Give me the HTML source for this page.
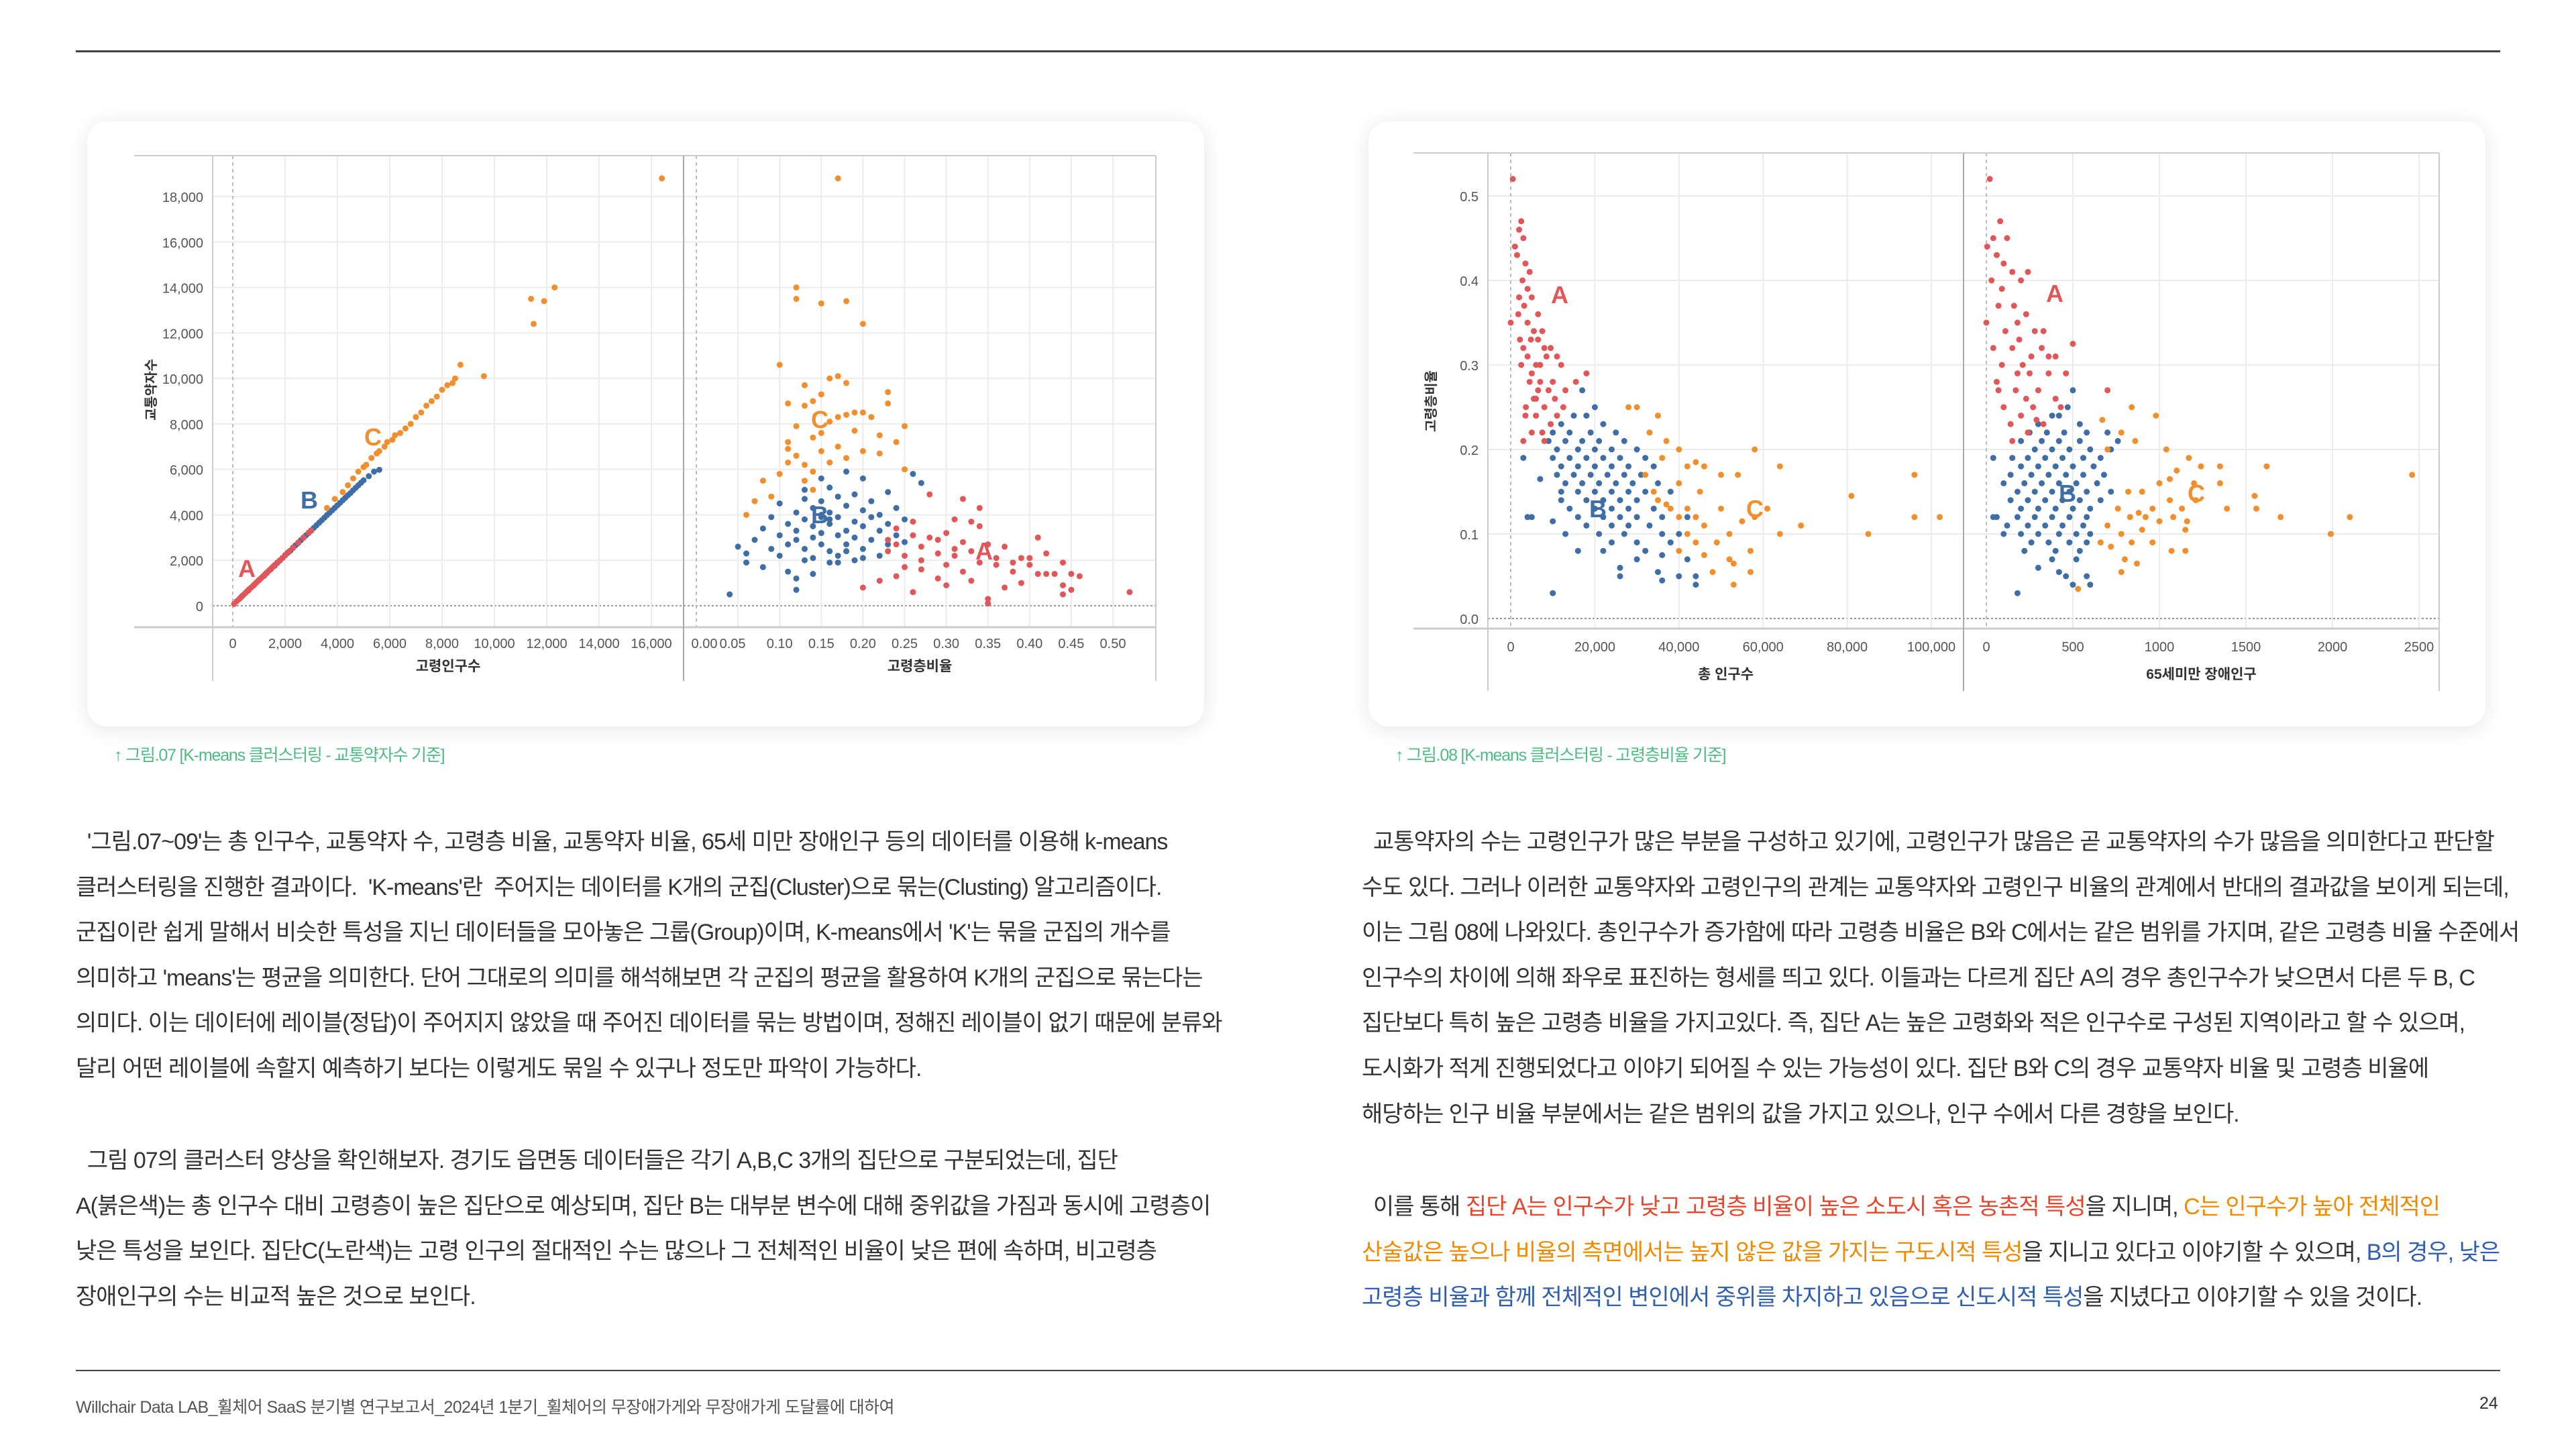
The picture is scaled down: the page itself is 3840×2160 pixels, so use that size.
<!DOCTYPE html>
<html><head><meta charset="utf-8"><style>
*{margin:0;padding:0;box-sizing:border-box}
body{width:3840px;height:2160px;background:#fff;position:relative;overflow:hidden;font-family:"Liberation Sans","Noto Sans CJK KR",sans-serif;color:#333}
.rule{position:absolute;left:113px;width:3614px;height:3px;background:#444}
.card{position:absolute;background:#fff;border-radius:30px;box-shadow:0 4px 30px rgba(0,0,0,0.10)}
.cap{position:absolute;font-size:25px;color:#4dbb83;letter-spacing:-1.2px;white-space:nowrap}
.para{position:absolute;font-size:34px;line-height:67.6px;letter-spacing:-1.0px;white-space:nowrap;color:#333}
.r{color:#e8452c}.o{color:#f08a00}.b{color:#2f5fae}
svg text{font-family:"Liberation Sans","Noto Sans CJK KR",sans-serif}
</style></head><body>
<div class="rule" style="top:75px"></div>
<div class="card" style="left:130px;top:181px;width:1665px;height:902px"></div>
<div class="card" style="left:2040px;top:181px;width:1665px;height:902px"></div>
<svg id="charts" width="3840" height="2160" style="position:absolute;left:0;top:0"></svg>
<div class="cap" style="left:170px;top:1106px">↑ 그림.07 [K-means 클러스터링 - 교통약자수 기준]</div>
<div class="cap" style="left:2080px;top:1106px">↑ 그림.08 [K-means 클러스터링 - 고령층비율 기준]</div>

<div class="para" style="left:113px;top:1222px">&nbsp; '그림.07~09'는 총 인구수, 교통약자 수, 고령층 비율, 교통약자 비율, 65세 미만 장애인구 등의 데이터를 이용해 k-means<br>클러스터링을 진행한 결과이다.&nbsp; 'K-means'란&nbsp; 주어지는 데이터를 K개의 군집(Cluster)으로 묶는(Clusting) 알고리즘이다.<br>군집이란 쉽게 말해서 비슷한 특성을 지닌 데이터들을 모아놓은 그룹(Group)이며, K-means에서 'K'는 묶을 군집의 개수를<br>의미하고 'means'는 평균을 의미한다. 단어 그대로의 의미를 해석해보면 각 군집의 평균을 활용하여 K개의 군집으로 묶는다는<br>의미다. 이는 데이터에 레이블(정답)이 주어지지 않았을 때 주어진 데이터를 묶는 방법이며, 정해진 레이블이 없기 때문에 분류와<br>달리 어떤 레이블에 속할지 예측하기 보다는 이렇게도 묶일 수 있구나 정도만 파악이 가능하다.</div>
<div class="para" style="left:113px;top:1697px">&nbsp; 그림 07의 클러스터 양상을 확인해보자. 경기도 읍면동 데이터들은 각기 A,B,C 3개의 집단으로 구분되었는데, 집단<br>A(붉은색)는 총 인구수 대비 고령층이 높은 집단으로 예상되며, 집단 B는 대부분 변수에 대해 중위값을 가짐과 동시에 고령층이<br>낮은 특성을 보인다. 집단C(노란색)는 고령 인구의 절대적인 수는 많으나 그 전체적인 비율이 낮은 편에 속하며, 비고령층<br>장애인구의 수는 비교적 높은 것으로 보인다.</div>
<div class="para" style="left:2030px;top:1222px">&nbsp; 교통약자의 수는 고령인구가 많은 부분을 구성하고 있기에, 고령인구가 많음은 곧 교통약자의 수가 많음을 의미한다고 판단할<br>수도 있다. 그러나 이러한 교통약자와 고령인구의 관계는 교통약자와 고령인구 비율의 관계에서 반대의 결과값을 보이게 되는데,<br>이는 그림 08에 나와있다. 총인구수가 증가함에 따라 고령층 비율은 B와 C에서는 같은 범위를 가지며, 같은 고령층 비율 수준에서<br>인구수의 차이에 의해 좌우로 표진하는 형세를 띄고 있다. 이들과는 다르게 집단 A의 경우 총인구수가 낮으면서 다른 두 B, C<br>집단보다 특히 높은 고령층 비율을 가지고있다. 즉, 집단 A는 높은 고령화와 적은 인구수로 구성된 지역이라고 할 수 있으며,<br>도시화가 적게 진행되었다고 이야기 되어질 수 있는 가능성이 있다. 집단 B와 C의 경우 교통약자 비율 및 고령층 비율에<br>해당하는 인구 비율 부분에서는 같은 범위의 값을 가지고 있으나, 인구 수에서 다른 경향을 보인다.</div>
<div class="para" style="left:2030px;top:1766px">&nbsp; 이를 통해 <span class="r">집단 A는 인구수가 낮고 고령층 비율이 높은 소도시 혹은 농촌적 특성</span>을 지니며, <span class="o">C는 인구수가 높아 전체적인</span><br><span class="o">산술값은 높으나 비율의 측면에서는 높지 않은 값을 가지는 구도시적 특성</span>을 지니고 있다고 이야기할 수 있으며, <span class="b">B의 경우, 낮은</span><br><span class="b">고령층 비율과 함께 전체적인 변인에서 중위를 차지하고 있음으로 신도시적 특성</span>을 지녔다고 이야기할 수 있을 것이다.</div>

<div class="rule" style="top:2042px;height:2px"></div>
<div style="position:absolute;left:113px;top:2078px;font-size:25px;color:#555;letter-spacing:-0.6px;white-space:nowrap">Willchair Data LAB_휠체어 SaaS 분기별 연구보고서_2024년 1분기_휠체어의 무장애가게와 무장애가게 도달률에 대하여</div>
<div style="position:absolute;left:3696px;top:2078px;font-size:25px;color:#333">24</div>

<script>
// chart 07 data
const c1YTicks=[0,2000,4000,6000,8000,10000,12000,14000,16000,18000];
const c1p1XTicks=[0,2000,4000,6000,8000,10000,12000,14000,16000];
const c1p2XTicks=[0,0.05,0.10,0.15,0.20,0.25,0.30,0.35,0.40,0.45,0.50];
const c1p1A_x=[50,150,250,320,400,480,550,620,700,780,850,920,1000,1080,1150,1230,1300,1380,1450,1520,1600,1700,1800,1900,2000,2150,2300,2500,2700,2900,3000];
const c1p1A_y=[80,200,300,380,470,560,640,720,800,880,960,1040,1130,1210,1290,1380,1460,1540,1620,1700,1790,1900,2000,2100,2230,2380,2560,2780,3000,3220,3300];
const c1p1B_x=[350,600,800,1000,1200,1300,1450,1600,1700,1800,1900,2000,2100,2200,2300,2400,2500,2600,2700,2800,2900,3000,3100,3200,3300,3400,3500,3600,3700,3800,3900,4000,4100,4200,4300,4400,4500,4600,4700,4800,4900,5000,5200,5400,5600];
const c1p1B_y=[420,680,900,1120,1320,1440,1600,1760,1880,1990,2100,2220,2330,2420,2540,2660,2760,2880,2990,3100,3200,3320,3430,3540,3650,3760,3870,3990,4090,4200,4310,4420,4530,4640,4750,4860,4960,5080,5190,5300,5410,5520,5700,5900,5980];
const c1p1C_x=[3600,3900,4200,4400,4600,4800,5000,5100,5300,5500,5600,5800,5900,6100,6200,6400,6600,6800,7000,7200,7400,7600,7800,8000,8200,8400,8500,8700,9600,11400,11500,11900,12300,16400];
const c1p1C_y=[4300,4700,5000,5300,5600,5900,6100,6200,6500,6700,6800,7000,7200,7300,7500,7600,7800,8000,8300,8500,8800,9000,9200,9500,9700,9800,10000,10600,10100,13500,12400,13400,14000,18800];
const c1p2B=[[0.05,2600],[0.06,2300],[0.07,2900],[0.06,1900],[0.08,3400],[0.09,2500],[0.09,3900],[0.10,2200],[0.10,3100],[0.10,4500],[0.11,2700],[0.11,3600],[0.11,1500],[0.12,4100],[0.12,2900],[0.12,3300],[0.12,1200],[0.13,4700],[0.13,2500],[0.13,3800],[0.13,5100],[0.14,3000],[0.14,4300],[0.14,2100],[0.14,3500],[0.15,5600],[0.15,3900],[0.15,2700],[0.15,4600],[0.15,3200],[0.16,1900],[0.16,4100],[0.16,5200],[0.16,3600],[0.16,2400],[0.17,4800],[0.17,3100],[0.17,3900],[0.17,2200],[0.18,5900],[0.18,4400],[0.18,3300],[0.18,2700],[0.19,3700],[0.19,4900],[0.19,2000],[0.19,3000],[0.20,4200],[0.20,3500],[0.20,2500],[0.20,5600],[0.21,3900],[0.21,2900],[0.21,4600],[0.22,3300],[0.22,2200],[0.22,4000],[0.23,3600],[0.23,5000],[0.23,2700],[0.24,3100],[0.24,4300],[0.25,2800],[0.25,3800],[0.26,5800],[0.27,5400],[0.12,700],[0.04,500],[0.14,1400],[0.17,1900],[0.20,2100],[0.18,2400],[0.13,2000],[0.08,1700],[0.16,3800],[0.15,4000]];
const c1p2C=[[0.06,4000],[0.07,4600],[0.08,5500],[0.09,4800],[0.10,5800],[0.10,10600],[0.11,6300],[0.11,8900],[0.11,7200],[0.12,7900],[0.12,6600],[0.12,14000],[0.12,13500],[0.13,5500],[0.13,9700],[0.13,8800],[0.13,6200],[0.14,7400],[0.14,9000],[0.14,5900],[0.15,13300],[0.15,6800],[0.15,9300],[0.15,7600],[0.16,6300],[0.16,8100],[0.16,10000],[0.17,7000],[0.17,18800],[0.17,10100],[0.17,8300],[0.18,9800],[0.18,13400],[0.18,8400],[0.18,6500],[0.19,8500],[0.19,7700],[0.20,12400],[0.20,8500],[0.20,6800],[0.21,8300],[0.22,7500],[0.22,6700],[0.23,9400],[0.23,8900],[0.24,7200],[0.25,7900],[0.25,6000],[0.11,6900],[0.14,5100]];
const c1p2A=[[0.22,1100],[0.23,2400],[0.23,2900],[0.24,2700],[0.24,3400],[0.25,2200],[0.25,1700],[0.26,3100],[0.26,3700],[0.27,2600],[0.27,2000],[0.27,1600],[0.28,3000],[0.28,4900],[0.29,1200],[0.29,2300],[0.29,2900],[0.30,1800],[0.30,3200],[0.30,900],[0.31,2200],[0.31,3800],[0.32,4700],[0.32,1500],[0.32,2800],[0.33,2400],[0.33,3700],[0.33,1100],[0.34,1900],[0.34,3500],[0.34,4300],[0.35,100],[0.35,2700],[0.35,300],[0.36,2100],[0.36,1800],[0.37,2600],[0.37,800],[0.38,1900],[0.38,1500],[0.39,2100],[0.39,1000],[0.40,1800],[0.40,2100],[0.41,1400],[0.41,3000],[0.42,1400],[0.42,2300],[0.43,1400],[0.44,900],[0.44,500],[0.45,1400],[0.45,700],[0.46,1300],[0.44,1900],[0.52,600],[0.20,800],[0.24,1300],[0.26,600],[0.31,2500]];
// chart 08 data
const c2YTicks=[0,0.1,0.2,0.3,0.4,0.5];
const c2p1XTicks=[0,20000,40000,60000,80000,100000];
const c2p2XTicks=[0,500,1000,1500,2000,2500];
const c2p1A=[[500,0.52],[1000,0.44],[2000,0.46],[2500,0.47],[3000,0.45],[1500,0.43],[3500,0.42],[2800,0.40],[4000,0.39],[3200,0.37],[4500,0.41],[5000,0.38],[0,0.35],[1800,0.36],[2200,0.33],[3000,0.32],[4000,0.35],[5500,0.34],[6500,0.33],[7500,0.34],[8000,0.32],[2500,0.30],[4000,0.31],[5000,0.29],[6000,0.30],[7000,0.28],[8500,0.31],[9500,0.32],[11000,0.31],[12000,0.30],[4500,0.28],[5500,0.26],[6500,0.27],[8000,0.25],[9000,0.27],[10500,0.26],[13000,0.27],[15500,0.28],[18000,0.29],[3500,0.24],[6000,0.24],[7500,0.22],[9500,0.23],[11000,0.24],[3000,0.21],[5000,0.22],[8000,0.21],[6500,0.36],[3600,0.25],[2000,0.38],[7000,0.30],[10000,0.28],[4800,0.33],[6000,0.26],[12500,0.25]];
const c2p1B=[[17000,0.27],[20000,0.25],[15000,0.24],[18000,0.24],[12000,0.23],[22000,0.23],[10000,0.22],[14000,0.22],[19000,0.22],[25000,0.22],[9000,0.21],[13000,0.21],[17000,0.21],[21000,0.21],[27000,0.21],[11000,0.20],[16000,0.20],[20000,0.20],[24000,0.20],[30000,0.20],[10000,0.19],[14000,0.19],[18000,0.19],[22000,0.19],[26000,0.19],[32000,0.19],[3000,0.19],[12000,0.18],[16000,0.18],[20000,0.18],[24000,0.18],[28000,0.18],[34000,0.18],[11000,0.17],[15000,0.17],[19000,0.17],[23000,0.17],[27000,0.17],[31000,0.17],[7000,0.165],[13000,0.16],[17000,0.16],[21000,0.16],[25000,0.16],[29000,0.16],[35000,0.16],[12000,0.15],[16000,0.15],[20000,0.15],[24000,0.15],[28000,0.15],[32000,0.15],[38000,0.15],[12000,0.14],[18000,0.14],[22000,0.14],[26000,0.14],[30000,0.14],[14000,0.13],[20000,0.13],[24000,0.13],[28000,0.13],[34000,0.13],[5000,0.12],[16000,0.12],[22000,0.12],[26000,0.12],[30000,0.12],[36000,0.12],[10000,0.115],[18000,0.11],[24000,0.11],[28000,0.11],[33000,0.11],[13000,0.10],[21000,0.10],[27000,0.10],[36000,0.10],[40000,0.10],[24000,0.09],[30000,0.09],[38000,0.09],[16000,0.08],[22000,0.08],[32000,0.08],[36000,0.075],[42000,0.07],[30000,0.07],[26000,0.06],[35000,0.055],[26000,0.05],[40000,0.05],[44000,0.05],[36000,0.045],[44000,0.04],[10000,0.03],[4000,0.12],[42000,0.12]];
const c2p1C=[[28000,0.25],[30000,0.25],[35000,0.24],[33000,0.22],[37000,0.21],[40000,0.20],[36000,0.19],[42000,0.18],[44000,0.185],[46000,0.18],[58000,0.20],[64000,0.18],[54000,0.17],[50000,0.17],[32000,0.17],[40000,0.16],[45000,0.15],[35000,0.14],[38000,0.13],[42000,0.13],[44000,0.12],[40000,0.12],[46000,0.11],[55000,0.115],[50000,0.13],[58000,0.12],[61000,0.13],[69000,0.11],[64000,0.10],[81000,0.145],[85000,0.10],[96000,0.17],[96000,0.12],[102000,0.12],[42000,0.10],[52000,0.10],[44000,0.09],[49000,0.09],[40000,0.08],[46000,0.075],[52000,0.07],[57000,0.08],[48000,0.055],[53000,0.065],[57000,0.055],[53000,0.04],[34000,0.15],[37000,0.135]];
const c2p2A=[[20,0.52],[5,0.44],[40,0.45],[80,0.47],[120,0.45],[60,0.43],[100,0.42],[30,0.40],[150,0.41],[200,0.40],[90,0.39],[240,0.41],[0,0.35],[70,0.37],[160,0.37],[230,0.36],[110,0.34],[190,0.33],[280,0.34],[330,0.34],[40,0.32],[150,0.32],[210,0.30],[260,0.31],[320,0.32],[400,0.31],[500,0.325],[90,0.30],[180,0.29],[250,0.29],[360,0.29],[460,0.29],[70,0.27],[170,0.27],[230,0.26],[300,0.27],[400,0.26],[100,0.25],[200,0.24],[270,0.25],[330,0.23],[430,0.25],[240,0.22],[150,0.21],[290,0.235],[700,0.27],[360,0.31],[180,0.35],[60,0.28],[140,0.23]];
const c2p2B=[[500,0.27],[470,0.25],[380,0.24],[420,0.24],[300,0.23],[540,0.23],[250,0.22],[350,0.22],[450,0.22],[580,0.22],[700,0.22],[200,0.21],[320,0.21],[420,0.21],[540,0.21],[760,0.21],[280,0.20],[380,0.20],[480,0.20],[600,0.20],[720,0.20],[150,0.19],[240,0.19],[340,0.19],[440,0.19],[560,0.19],[660,0.19],[40,0.19],[200,0.18],[300,0.18],[400,0.18],[500,0.18],[620,0.18],[140,0.17],[260,0.17],[360,0.17],[460,0.17],[560,0.17],[680,0.17],[100,0.16],[220,0.16],[320,0.16],[420,0.16],[520,0.16],[640,0.16],[180,0.15],[280,0.15],[380,0.15],[480,0.15],[580,0.15],[720,0.15],[140,0.14],[240,0.14],[340,0.14],[440,0.14],[540,0.14],[660,0.14],[200,0.13],[300,0.13],[400,0.13],[500,0.13],[600,0.13],[60,0.12],[180,0.12],[280,0.12],[380,0.12],[480,0.12],[580,0.12],[120,0.11],[240,0.11],[340,0.11],[440,0.11],[560,0.11],[100,0.10],[200,0.10],[300,0.10],[420,0.10],[520,0.10],[600,0.10],[260,0.09],[360,0.09],[480,0.09],[580,0.09],[220,0.08],[400,0.08],[540,0.08],[380,0.07],[520,0.07],[300,0.06],[420,0.055],[460,0.05],[580,0.05],[500,0.04],[600,0.04],[180,0.03],[40,0.12]];
const c2p2C=[[840,0.25],[980,0.24],[670,0.235],[780,0.22],[860,0.21],[700,0.20],[1040,0.20],[1170,0.19],[1240,0.18],[1350,0.18],[1620,0.18],[1100,0.175],[1060,0.165],[1000,0.16],[900,0.15],[820,0.15],[1200,0.16],[1350,0.16],[1550,0.145],[1060,0.14],[960,0.13],[880,0.125],[1130,0.13],[1210,0.14],[1390,0.13],[1560,0.13],[760,0.13],[830,0.12],[920,0.12],[1000,0.115],[1080,0.12],[1160,0.115],[1700,0.12],[2100,0.12],[700,0.11],[900,0.105],[1150,0.105],[1990,0.10],[2460,0.17],[780,0.10],[840,0.09],[960,0.09],[1070,0.08],[1150,0.08],[660,0.09],[800,0.07],[870,0.065],[780,0.055],[530,0.035],[720,0.085]];

const RED='#e15759',BLUE='#3f6ea6',ORANGE='#f28e2b';
const NS='http://www.w3.org/2000/svg';
const svg=document.getElementById('charts');
function el(tag,attrs,parent){const e=document.createElementNS(NS,tag);for(const k in attrs)e.setAttribute(k,attrs[k]);(parent||svg).appendChild(e);return e;}
const c1y=v=>903-v/18000*610;
const c1x1=v=>347+v/16000*624;
const c1x2=v=>1038+v/0.5*621;
const c2y=v=>922-v/0.5*630;
const c2x1=v=>2252+v/100000*627;
const c2x2=v=>2961+v/2500*645;

function frame(o){
  o.yTicks.forEach(t=>{
    const l=el('line',{x1:o.left,x2:o.right,y1:o.ys(t),y2:o.ys(t),stroke:t===0?'#999':'#ececec','stroke-width':2,'stroke-dasharray':t===0?'3,3':'none'});
    
    
    const tx=el('text',{x:o.left-14,y:o.ys(t)+8,'text-anchor':'end','font-size':20,fill:'#555'});
    tx.textContent=o.yFmt(t);
    
    
  });
  o.panels.forEach(p=>{
    p.ticks.forEach(t=>{
      const l=el('line',{x1:p.xs(t),x2:p.xs(t),y1:o.top,y2:o.base,stroke:t===0?'#bbb':'#ececec','stroke-width':2,'stroke-dasharray':t===0?'5,5':'none'});
      
      
      const tx=el('text',{x:p.xs(t)+(p.shift?p.shift(t):0),y:o.tickY,'text-anchor':'middle','font-size':20,fill:'#555'});
      tx.textContent=p.fmt(t);
      
      
    });
    const ti=el('text',{x:(p.l+p.r)/2,y:o.titleY,'text-anchor':'middle','font-size':21,fill:'#333','font-weight':'bold'});
    ti.textContent=p.title;
    
    
  });
  el('line',{x1:o.outerL,x2:o.right,y1:o.top,y2:o.top,stroke:'#ccc','stroke-width':2});
  el('line',{x1:o.outerL,x2:o.right,y1:o.base,y2:o.base,stroke:'#ccc','stroke-width':3});
  [o.left,o.mid,o.right].forEach((x,i)=>el('line',{x1:x,x2:x,y1:o.top,y2:o.bottom,stroke:i==1?'#aaa':'#ccc','stroke-width':2}));
  const yt=el('text',{x:o.yTitleX,y:o.yTitleY,'text-anchor':'middle','font-size':20,fill:'#333','font-weight':'bold',transform:`rotate(-90 ${o.yTitleX} ${o.yTitleY})`});
  yt.textContent=o.yTitle;
  
  
}
frame({left:317,mid:1019,right:1723,outerL:200,top:232,base:935,bottom:1015,ys:c1y,yTicks:c1YTicks,yFmt:t=>t.toLocaleString('en-US'),tickY:966,titleY:1000,yTitleX:232,yTitleY:581,yTitle:'교통약자수',
  panels:[{l:317,r:1019,xs:c1x1,ticks:c1p1XTicks,fmt:t=>t.toLocaleString('en-US'),title:'고령인구수'},
          {l:1019,r:1723,xs:c1x2,ticks:c1p2XTicks,fmt:t=>t.toFixed(2),title:'고령층비율',shift:t=>t===0?12:(t===0.05?-8:0)}]});
frame({left:2218,mid:2927,right:3636,outerL:2107,top:228,base:937,bottom:1030,ys:c2y,yTicks:c2YTicks,yFmt:t=>t.toFixed(1),tickY:971,titleY:1012,yTitleX:2140,yTitleY:598,yTitle:'고령층비율',
  panels:[{l:2218,r:2927,xs:c2x1,ticks:c2p1XTicks,fmt:t=>t.toLocaleString('en-US'),title:'총 인구수'},
          {l:2927,r:3636,xs:c2x2,ticks:c2p2XTicks,fmt:t=>String(t),title:'65세미만 장애인구'}]});

function dotsXY(xs,ys,sx,sy,color,name){
  xs.forEach((v,i)=>{const c=el('circle',{cx:sx(v),cy:sy(ys[i]),r:4.5,fill:color});
    
    });
}
function dotsP(arr,sx,sy,color,name){
  arr.forEach(p=>{const c=el('circle',{cx:sx(p[0]),cy:sy(p[1]),r:4.5,fill:color});
    
    });
}
dotsXY(c1p1B_x,c1p1B_y,c1x1,c1y,BLUE,'point-cluster-b');
dotsXY(c1p1C_x,c1p1C_y,c1x1,c1y,ORANGE,'point-cluster-c');
dotsXY(c1p1A_x,c1p1A_y,c1x1,c1y,RED,'point-cluster-a');
dotsP(c1p2B,c1x2,c1y,BLUE,'point-cluster-b');
dotsP(c1p2C,c1x2,c1y,ORANGE,'point-cluster-c');
dotsP(c1p2A,c1x2,c1y,RED,'point-cluster-a');
dotsP(c2p1B,c2x1,c2y,BLUE,'point-cluster-b');
dotsP(c2p1C,c2x1,c2y,ORANGE,'point-cluster-c');
dotsP(c2p1A,c2x1,c2y,RED,'point-cluster-a');
dotsP(c2p2B,c2x2,c2y,BLUE,'point-cluster-b');
dotsP(c2p2C,c2x2,c2y,ORANGE,'point-cluster-c');
dotsP(c2p2A,c2x2,c2y,RED,'point-cluster-a');

function lab(x,y,t,c){const e=el('text',{x:x,y:y,'text-anchor':'middle','font-size':36,'font-weight':'bold',fill:c});e.textContent=t;
  
  }
lab(368,860,'A',RED);lab(461,758,'B',BLUE);lab(556,664,'C',ORANGE);
lab(1222,638,'C',ORANGE);lab(1222,780,'B',BLUE);lab(1467,834,'A',RED);
lab(2325,452,'A',RED);lab(2382,771,'B',BLUE);lab(2616,771,'C',ORANGE);
lab(3063,450,'A',RED);lab(3082,748,'B',BLUE);lab(3274,748,'C',ORANGE);
</script>
</body></html>
